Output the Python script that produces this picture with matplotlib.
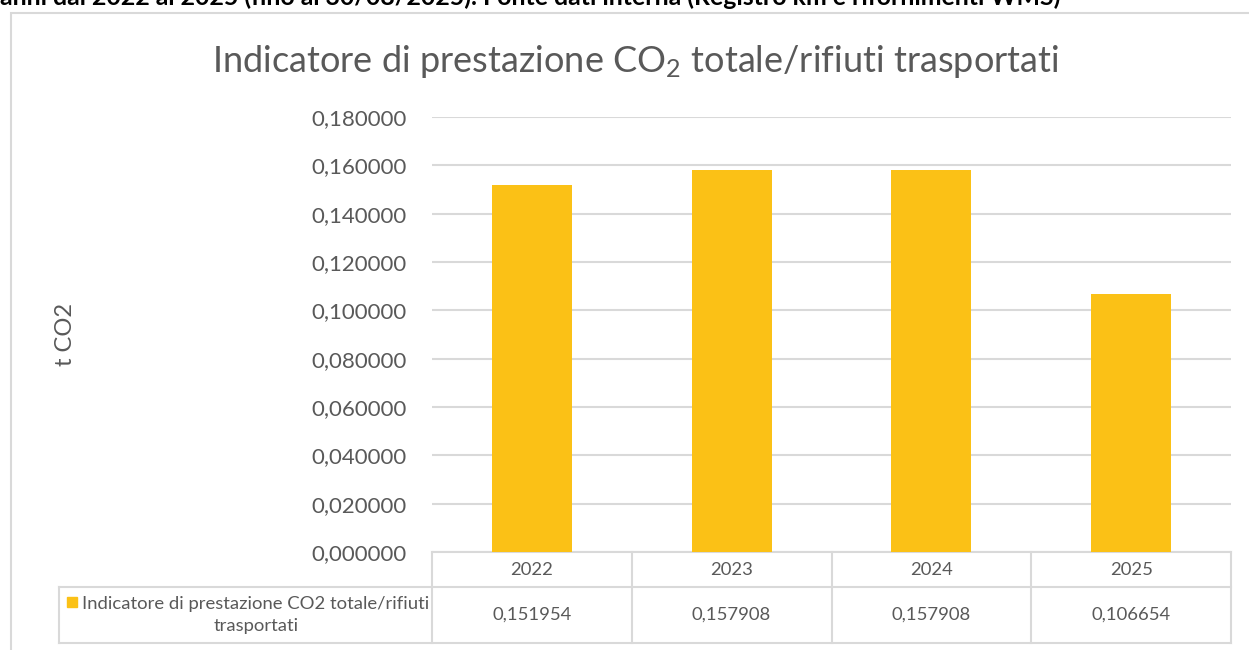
import matplotlib
matplotlib.use("Agg")
from matplotlib import pyplot as plt
from matplotlib.patches import Rectangle
from matplotlib.ticker import FuncFormatter, MultipleLocator
import matplotlib.transforms as mtransforms

# dati del grafico
anni = ["2022", "2023", "2024", "2025"]
valori = [0.151954, 0.157908, 0.157908, 0.106654]
nome_serie = "Indicatore di prestazione CO2 totale/rifiuti\ntrasportati"
titolo = "Indicatore di prestazione CO$_2$ totale/rifiuti trasportati"
etichetta_y = "t CO2"
testo_sopra = "anni dal 2022 al 2025 (fino al 30/08/2025). Fonte dati interna (Registro km e rifornimenti WMS)"

giallo = "#FBC116"
grigio_testo = "#595959"
grigio_linee = "#D9D9D9"

plt.rcParams["font.family"] = ["Lato", "DejaVu Sans"]
plt.rcParams["mathtext.fontset"] = "custom"
plt.rcParams["mathtext.rm"] = "Lato"
plt.rcParams["mathtext.it"] = "Lato"

def virgola(v, pos=None):
  return f"{v:.6f}".replace(".", ",")

W, H = 1249, 650
fig = plt.figure(figsize=(W / 100, H / 100), dpi=100)

# cornice grigia del grafico
fig.patches.append(Rectangle((11 / W, -0.1), 1.2, 1 - 12.5 / H + 0.1, transform=fig.transFigure,
                             fill=False, edgecolor=grigio_linee, linewidth=1.5))

# testo tagliato in alto
fig.text(0.0, 1 - 5 / H, testo_sopra, fontsize=17.9, fontweight="bold", color="black",
         ha="left", va="baseline")

ax = fig.add_axes([432 / W, (H - 552) / H, 799 / W, 435 / H])

x = range(len(anni))
ax.bar(x, valori, width=0.4, color=giallo, zorder=3)
ax.set_xlim(-0.5, len(anni) - 0.5)
ax.set_ylim(0, 0.18)
ax.yaxis.set_major_locator(MultipleLocator(0.02))
ax.yaxis.set_major_formatter(FuncFormatter(virgola))
ax.grid(axis="y", color=grigio_linee, linewidth=1.5, zorder=0)
ax.set_xticks([])
ax.tick_params(axis="y", length=0, pad=18, labelsize=16, labelcolor=grigio_testo)
for s in ["top", "right", "left"]:
  ax.spines[s].set_visible(False)
ax.spines["bottom"].set_color(grigio_linee)
ax.spines["bottom"].set_linewidth(1.5)

ax.set_ylabel(etichetta_y, fontsize=17, color=grigio_testo, labelpad=0)
ax.yaxis.set_label_coords((76 - 432) / 799, 0.5)

fig.text(636 / W, 1 - 62 / H, titolo, fontsize=26, color=grigio_testo, ha="center", va="center")

# tabella dati sotto il grafico (disegnata a mano)
def ay(py):
  return (552 - py) / 435

def ax_px(px):
  return (px - 432) / 799

blend = mtransforms.blended_transform_factory(ax.transData, ax.transAxes)
stile = dict(color=grigio_linee, linewidth=1.5, clip_on=False, solid_capstyle="projecting")

n = len(anni)
for i in range(n + 1):
  ax.plot([i - 0.5, i - 0.5], [ay(552), ay(643)], transform=blend, **stile)
ax.plot([ax_px(59), 1], [ay(587), ay(587)], transform=ax.transAxes, **stile)
ax.plot([ax_px(59), 1], [ay(643), ay(643)], transform=ax.transAxes, **stile)
ax.plot([ax_px(59), ax_px(59)], [ay(587), ay(643)], transform=ax.transAxes, **stile)

for i in range(n):
  ax.text(i, ay(570), anni[i], transform=blend, ha="center", va="center",
          fontsize=13.3, color=grigio_testo)
  ax.text(i, ay(615), virgola(valori[i]), transform=blend, ha="center", va="center",
          fontsize=13.3, color=grigio_testo)

ax.text(ax_px(256), ay(615), nome_serie, transform=ax.transAxes,
        ha="center", va="center", multialignment="center", fontsize=13.3, color=grigio_testo,
        linespacing=1.45)
ax.add_patch(Rectangle((ax_px(67), ay(607)), 10 / 799, 10 / 435,
                       transform=ax.transAxes, color=giallo, clip_on=False))

fig.savefig("out.png", dpi=100)
